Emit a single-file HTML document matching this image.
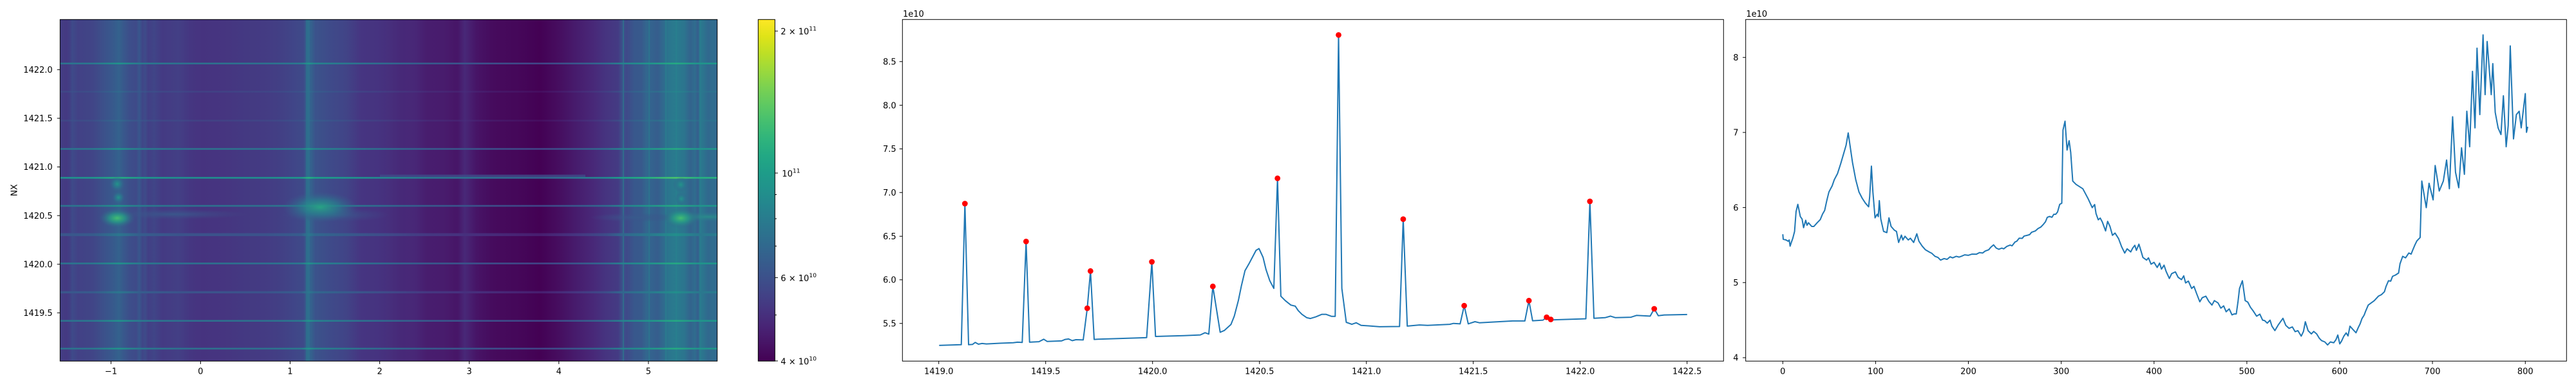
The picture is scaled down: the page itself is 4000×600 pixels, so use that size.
<!DOCTYPE html>
<html><head><meta charset="utf-8"><style>
html,body{margin:0;padding:0;background:#fff;}
svg{display:block;}
text{font-family:"DejaVu Sans","Liberation Sans",sans-serif;font-size:13px;fill:#000;}
</style></head><body>
<svg width="4000" height="600" viewBox="0 0 4000 600" xmlns="http://www.w3.org/2000/svg">
<defs>
<clipPath id="hmclip"><rect x="93.3" y="30.3" width="1020.4" height="531"/></clipPath>
<linearGradient id="hm" x1="0" y1="0" x2="1" y2="0">
<stop offset="0" stop-color="rgb(67,62,132)"/><stop offset=".00995" stop-color="rgb(68,57,130)"/><stop offset=".0149" stop-color="rgb(66,63,133)"/><stop offset=".0187" stop-color="rgb(62,74,137)"/><stop offset=".0274" stop-color="rgb(66,65,134)"/><stop offset=".0373" stop-color="rgb(65,67,134)"/><stop offset=".0498" stop-color="rgb(65,69,135)"/><stop offset=".0597" stop-color="rgb(62,76,137)"/><stop offset=".0697" stop-color="rgb(59,83,139)"/><stop offset=".0784" stop-color="rgb(56,88,140)"/><stop offset=".0858" stop-color="rgb(53,94,141)"/><stop offset=".0896" stop-color="rgb(52,98,141)"/><stop offset=".0958" stop-color="rgb(56,89,140)"/><stop offset=".1045" stop-color="rgb(60,79,138)"/><stop offset=".1157" stop-color="rgb(63,74,137)"/><stop offset=".1206" stop-color="rgb(56,87,140)"/><stop offset=".1256" stop-color="rgb(64,69,135)"/><stop offset=".1294" stop-color="rgb(62,76,137)"/><stop offset=".1343" stop-color="rgb(66,63,133)"/><stop offset=".1430" stop-color="rgb(64,69,135)"/><stop offset=".1555" stop-color="rgb(68,58,131)"/><stop offset=".1803" stop-color="rgb(67,63,133)"/><stop offset=".1978" stop-color="rgb(69,54,129)"/><stop offset=".2164" stop-color="rgb(70,51,127)"/><stop offset=".2488" stop-color="rgb(70,53,128)"/><stop offset=".2823" stop-color="rgb(68,57,130)"/><stop offset=".3109" stop-color="rgb(68,59,131)"/><stop offset=".3383" stop-color="rgb(66,64,133)"/><stop offset=".3570" stop-color="rgb(64,70,136)"/><stop offset=".3706" stop-color="rgb(62,74,137)"/><stop offset=".3756" stop-color="rgb(51,99,141)"/><stop offset=".3781" stop-color="rgb(50,101,142)"/><stop offset=".3831" stop-color="rgb(53,96,141)"/><stop offset=".3881" stop-color="rgb(59,83,139)"/><stop offset=".4142" stop-color="rgb(63,73,137)"/><stop offset=".4353" stop-color="rgb(65,68,135)"/><stop offset=".4577" stop-color="rgb(70,53,129)"/><stop offset=".4826" stop-color="rgb(70,51,128)"/><stop offset=".5012" stop-color="rgb(71,47,124)"/><stop offset=".5174" stop-color="rgb(71,41,120)"/><stop offset=".5398" stop-color="rgb(72,39,119)"/><stop offset=".5585" stop-color="rgb(72,29,110)"/><stop offset=".5833" stop-color="rgb(72,28,109)"/><stop offset=".6045" stop-color="rgb(71,21,103)"/><stop offset=".6157" stop-color="rgb(72,40,120)"/><stop offset=".6343" stop-color="rgb(71,20,102)"/><stop offset=".6592" stop-color="rgb(70,11,93)"/><stop offset=".6940" stop-color="rgb(69,8,90)"/><stop offset=".7301" stop-color="rgb(68,1,84)"/><stop offset=".7600" stop-color="rgb(70,14,96)"/><stop offset=".7836" stop-color="rgb(71,27,108)"/><stop offset=".8109" stop-color="rgb(72,40,120)"/><stop offset=".8308" stop-color="rgb(70,52,128)"/><stop offset=".8495" stop-color="rgb(68,59,131)"/><stop offset=".8557" stop-color="rgb(59,83,139)"/><stop offset=".8619" stop-color="rgb(63,73,137)"/><stop offset=".8744" stop-color="rgb(56,88,140)"/><stop offset=".8843" stop-color="rgb(56,89,140)"/><stop offset=".8930" stop-color="rgb(50,103,142)"/><stop offset=".9092" stop-color="rgb(54,93,141)"/><stop offset=".9167" stop-color="rgb(49,104,142)"/><stop offset=".9241" stop-color="rgb(44,115,142)"/><stop offset=".9303" stop-color="rgb(42,120,142)"/><stop offset=".9378" stop-color="rgb(41,123,142)"/><stop offset=".9502" stop-color="rgb(44,116,142)"/><stop offset=".9590" stop-color="rgb(51,99,141)"/><stop offset=".9664" stop-color="rgb(47,109,142)"/><stop offset=".9701" stop-color="rgb(54,94,141)"/><stop offset=".9751" stop-color="rgb(42,121,142)"/><stop offset=".9863" stop-color="rgb(49,104,142)"/><stop offset=".9950" stop-color="rgb(47,109,142)"/><stop offset="1" stop-color="rgb(51,99,141)"/>
</linearGradient>
<linearGradient id="ls" x1="0" y1="0" x2="1" y2="0">
<stop offset="0" stop-color="rgb(35,140,141)"/><stop offset=".0498" stop-color="rgb(33,145,140)"/><stop offset=".0896" stop-color="rgb(37,170,130)"/><stop offset=".1244" stop-color="rgb(32,147,139)"/><stop offset=".1866" stop-color="rgb(35,137,141)"/><stop offset=".311" stop-color="rgb(35,137,141)"/><stop offset=".3669" stop-color="rgb(32,147,139)"/><stop offset=".3781" stop-color="rgb(39,173,129)"/><stop offset=".3881" stop-color="rgb(30,156,137)"/><stop offset=".4353" stop-color="rgb(33,145,140)"/><stop offset=".4975" stop-color="rgb(38,130,142)"/><stop offset=".5597" stop-color="rgb(44,115,142)"/><stop offset=".6343" stop-color="rgb(47,108,142)"/><stop offset=".7301" stop-color="rgb(53,95,141)"/><stop offset=".7836" stop-color="rgb(45,113,142)"/><stop offset=".8308" stop-color="rgb(37,132,142)"/><stop offset=".8557" stop-color="rgb(30,156,137)"/><stop offset=".8955" stop-color="rgb(39,173,129)"/><stop offset=".9378" stop-color="rgb(73,193,109)"/><stop offset=".9701" stop-color="rgb(39,173,129)"/><stop offset="1" stop-color="rgb(42,175,127)"/>
</linearGradient>
<linearGradient id="lm" x1="0" y1="0" x2="1" y2="0">
<stop offset="0" stop-color="rgb(44,115,142)"/><stop offset=".0498" stop-color="rgb(42,120,142)"/><stop offset=".0896" stop-color="rgb(32,147,139)"/><stop offset=".1244" stop-color="rgb(41,122,142)"/><stop offset=".1866" stop-color="rgb(45,113,142)"/><stop offset=".311" stop-color="rgb(45,113,142)"/><stop offset=".3669" stop-color="rgb(41,122,142)"/><stop offset=".3781" stop-color="rgb(32,149,139)"/><stop offset=".3881" stop-color="rgb(37,132,142)"/><stop offset=".4353" stop-color="rgb(42,120,142)"/><stop offset=".4975" stop-color="rgb(48,105,142)"/><stop offset=".5597" stop-color="rgb(55,90,140)"/><stop offset=".6343" stop-color="rgb(59,82,139)"/><stop offset=".7301" stop-color="rgb(65,68,135)"/><stop offset=".7836" stop-color="rgb(57,87,140)"/><stop offset=".8308" stop-color="rgb(47,108,142)"/><stop offset=".8557" stop-color="rgb(37,132,142)"/><stop offset=".8955" stop-color="rgb(32,149,139)"/><stop offset=".9378" stop-color="rgb(37,170,130)"/><stop offset=".9701" stop-color="rgb(32,149,139)"/><stop offset="1" stop-color="rgb(31,152,138)"/>
</linearGradient>
<linearGradient id="lf" x1="0" y1="0" x2="1" y2="0">
<stop offset="0" stop-color="rgb(58,85,139)"/><stop offset=".0498" stop-color="rgb(55,90,140)"/><stop offset=".0896" stop-color="rgb(43,118,142)"/><stop offset=".1244" stop-color="rgb(54,92,141)"/><stop offset=".1866" stop-color="rgb(59,82,139)"/><stop offset=".311" stop-color="rgb(59,82,139)"/><stop offset=".3669" stop-color="rgb(54,92,141)"/><stop offset=".3781" stop-color="rgb(42,120,142)"/><stop offset=".3881" stop-color="rgb(49,103,142)"/><stop offset=".4353" stop-color="rgb(55,90,140)"/><stop offset=".4975" stop-color="rgb(63,74,137)"/><stop offset=".5597" stop-color="rgb(69,55,129)"/><stop offset=".6343" stop-color="rgb(71,46,124)"/><stop offset=".7301" stop-color="rgb(72,29,111)"/><stop offset=".7836" stop-color="rgb(70,52,128)"/><stop offset=".8308" stop-color="rgb(61,76,137)"/><stop offset=".8557" stop-color="rgb(49,103,142)"/><stop offset=".8955" stop-color="rgb(42,120,142)"/><stop offset=".9378" stop-color="rgb(34,142,140)"/><stop offset=".9701" stop-color="rgb(42,120,142)"/><stop offset="1" stop-color="rgb(41,122,142)"/>
</linearGradient>
<linearGradient id="cb" x1="0" y1="1" x2="0" y2="0">
<stop offset="0" stop-color="#440154"/><stop offset=".05" stop-color="#471365"/><stop offset=".1" stop-color="#482475"/><stop offset=".15" stop-color="#463480"/><stop offset=".2" stop-color="#414487"/><stop offset=".25" stop-color="#3b528b"/><stop offset=".3" stop-color="#355f8d"/><stop offset=".35" stop-color="#2f6c8e"/><stop offset=".4" stop-color="#2a788e"/><stop offset=".45" stop-color="#25848e"/><stop offset=".5" stop-color="#21918c"/><stop offset=".55" stop-color="#1e9c89"/><stop offset=".6" stop-color="#22a884"/><stop offset=".65" stop-color="#2fb47c"/><stop offset=".7" stop-color="#44bf70"/><stop offset=".75" stop-color="#5ec962"/><stop offset=".8" stop-color="#7ad151"/><stop offset=".85" stop-color="#9bd93c"/><stop offset=".9" stop-color="#bddf26"/><stop offset=".95" stop-color="#dfe318"/><stop offset="1" stop-color="#fde725"/>
</linearGradient>
<radialGradient id="rgG"><stop offset="0" stop-color="rgb(66,190,114)"/><stop offset=".45" stop-color="rgb(38,152,135)" stop-opacity=".8"/><stop offset="1" stop-color="rgb(50,100,140)" stop-opacity="0"/></radialGradient>
<radialGradient id="rgB"><stop offset="0" stop-color="rgb(40,162,132)"/><stop offset=".5" stop-color="rgb(40,128,142)" stop-opacity=".7"/><stop offset="1" stop-color="rgb(55,95,141)" stop-opacity="0"/></radialGradient>
<radialGradient id="rgT"><stop offset="0" stop-color="rgb(34,148,138)"/><stop offset=".5" stop-color="rgb(42,120,142)" stop-opacity=".7"/><stop offset="1" stop-color="rgb(55,95,141)" stop-opacity="0"/></radialGradient>
<radialGradient id="rgL"><stop offset="0" stop-color="rgb(56,92,141)" stop-opacity=".8"/><stop offset="1" stop-color="rgb(60,80,138)" stop-opacity="0"/></radialGradient>
<radialGradient id="rgLT"><stop offset="0" stop-color="rgb(40,145,138)" stop-opacity=".85"/><stop offset="1" stop-color="rgb(45,115,142)" stop-opacity="0"/></radialGradient>
</defs>

<!-- Heatmap -->
<g clip-path="url(#hmclip)">
<rect x="93.3" y="30.3" width="1020.4" height="531" fill="url(#hm)"/>
<rect x="475" y="30.3" width="6" height="531" fill="rgb(46,114,142)" opacity=".75"/>
<rect x="967" y="30.3" width="2" height="531" fill="rgb(42,125,142)" opacity=".6"/>
<rect x="1007" y="30.3" width="2" height="531" fill="rgb(42,125,142)" opacity=".6"/>
<rect x="1033" y="30.3" width="2" height="531" fill="rgb(40,130,142)" opacity=".6"/>
<rect x="1049" y="30.3" width="2" height="531" fill="rgb(40,130,142)" opacity=".6"/>
<rect x="1086" y="30.3" width="2" height="531" fill="rgb(40,130,142)" opacity=".6"/>
<rect x="93.3" y="97.4" width="1020.4" height="2.6" fill="url(#lm)"/>
<rect x="93.3" y="141.2" width="1020.4" height="2.6" fill="url(#lf)" opacity=".45"/>
<rect x="93.3" y="186.2" width="1020.4" height="2.6" fill="url(#lf)" opacity=".45"/>
<rect x="93.3" y="230.2" width="1020.4" height="2.6" fill="url(#lm)"/>
<rect x="590" y="271.5" width="319" height="4" fill="rgb(62,76,137)" opacity=".8"/>
<rect x="93.3" y="275" width="1020.4" height="2.8" fill="url(#ls)"/>
<rect x="93.3" y="318.7" width="1020.4" height="2.6" fill="url(#lm)"/>
<rect x="93.3" y="362.5" width="1020.4" height="4.5" fill="url(#lf)"/>
<rect x="93.3" y="408.2" width="1020.4" height="2.6" fill="url(#lm)"/>
<rect x="93.3" y="452.5" width="1020.4" height="3.5" fill="url(#lf)"/>
<rect x="93.3" y="497.4" width="1020.4" height="2.6" fill="url(#lm)"/>
<rect x="93.3" y="540.6" width="1020.4" height="2.6" fill="url(#lm)"/>
<ellipse cx="270" cy="333" rx="115" ry="8" fill="url(#rgL)"/>
<ellipse cx="520" cy="334" rx="85" ry="11" fill="url(#rgL)"/>
<ellipse cx="990" cy="338" rx="75" ry="7" fill="url(#rgL)"/>
<ellipse cx="1100" cy="337" rx="60" ry="8" fill="url(#rgLT)"/>
<ellipse cx="182" cy="339" rx="28" ry="15" fill="url(#rgG)"/>
<ellipse cx="182" cy="286" rx="12" ry="12" fill="url(#rgT)"/>
<ellipse cx="184" cy="307" rx="10" ry="10" fill="url(#rgT)"/>
<ellipse cx="497" cy="322" rx="58" ry="24" fill="url(#rgB)"/>
<ellipse cx="1057" cy="339" rx="28" ry="16" fill="url(#rgG)"/>
<ellipse cx="1057" cy="287" rx="12" ry="12" fill="url(#rgT)"/>
<ellipse cx="1058" cy="309" rx="10" ry="10" fill="url(#rgT)"/>
</g>
<rect x="93.3" y="30.3" width="1020.4" height="531" fill="none" stroke="#000" stroke-width="1"/>
<path d="M88.7 108.3H93.3M88.7 183.9H93.3M88.7 259.5H93.3M88.7 335.1H93.3M88.7 410.7H93.3M88.7 486.3H93.3M172.3 561.3V565.9M311.4 561.3V565.9M450.5 561.3V565.9M589.6 561.3V565.9M728.7 561.3V565.9M867.8 561.3V565.9M1006.9 561.3V565.9" stroke="#000" stroke-width="1" fill="none"/>
<g text-anchor="end">
<text x="81.7" y="113">1422.0</text><text x="81.7" y="188.6">1421.5</text><text x="81.7" y="264.2">1421.0</text><text x="81.7" y="339.8">1420.5</text><text x="81.7" y="415.4">1420.0</text><text x="81.7" y="491">1419.5</text>
</g>
<g text-anchor="middle">
<text x="172.3" y="581.7">−1</text><text x="311.4" y="581.7">0</text><text x="450.5" y="581.7">1</text><text x="589.6" y="581.7">2</text><text x="728.7" y="581.7">3</text><text x="867.8" y="581.7">4</text><text x="1006.9" y="581.7">5</text>
</g>
<text transform="translate(26.5,295.7) rotate(-90)" text-anchor="middle">NX</text>

<!-- Colorbar -->
<rect x="1177.3" y="30.3" width="26" height="531" fill="url(#cb)" stroke="#000" stroke-width="1"/>
<path d="M1203.3 48.3H1207.9M1203.3 269H1207.9M1203.3 431.6H1207.9M1203.3 561H1207.9M1203.3 302.5H1206.1M1203.3 340H1206.1M1203.3 382.5H1206.1M1203.3 489.6H1206.1" stroke="#000" stroke-width="1"/>
<text x="1212.3" y="53.6">2 × 10<tspan font-size="9.2" dy="-6">11</tspan></text>
<text x="1214.3" y="274.3">10<tspan font-size="9.2" dy="-6">11</tspan></text>
<text x="1212.3" y="436.9">6 × 10<tspan font-size="9.2" dy="-6">10</tspan></text>
<text x="1212.3" y="566.4">4 × 10<tspan font-size="9.2" dy="-6">10</tspan></text>

<!-- Middle chart -->
<rect x="1401.3" y="30.3" width="1275" height="531" fill="none" stroke="#000" stroke-width="1"/>
<path d="M1396.7 95.7H1401.3M1396.7 163.6H1401.3M1396.7 231.4H1401.3M1396.7 299.2H1401.3M1396.7 367.2H1401.3M1396.7 434.9H1401.3M1396.7 502.7H1401.3M1457.7 561.3V565.9M1623.7 561.3V565.9M1789.7 561.3V565.9M1955.7 561.3V565.9M2121.7 561.3V565.9M2287.7 561.3V565.9M2453.7 561.3V565.9M2619.7 561.3V565.9" stroke="#000" stroke-width="1" fill="none"/>
<g text-anchor="end">
<text x="1391.7" y="100.4">8.5</text><text x="1391.7" y="168.3">8.0</text><text x="1391.7" y="236.1">7.5</text><text x="1391.7" y="303.9">7.0</text><text x="1391.7" y="371.9">6.5</text><text x="1391.7" y="439.6">6.0</text><text x="1391.7" y="507.4">5.5</text>
</g>
<g text-anchor="middle">
<text x="1457.7" y="581.7">1419.0</text><text x="1623.7" y="581.7">1419.5</text><text x="1789.7" y="581.7">1420.0</text><text x="1955.7" y="581.7">1420.5</text><text x="2121.7" y="581.7">1421.0</text><text x="2287.7" y="581.7">1421.5</text><text x="2453.7" y="581.7">1422.0</text><text x="2619.7" y="581.7">1422.5</text>
</g>
<text x="1402" y="26">1e10</text>
<polyline fill="none" stroke="#1f77b4" stroke-width="2" stroke-linejoin="round" points="1458.3,536.9 1492.7,535.8 1498.3,316.5 1504,535.8 1510,535.4 1514.3,532.3 1519.3,535 1525,533.9 1531.7,534.6 1553.3,533.5 1573.3,532.7 1580,531.9 1587.3,532.3 1593.3,375.4 1598.7,531.9 1613.3,531.1 1620.7,527.3 1626,530.7 1648.3,529.9 1654,527.6 1659.3,526.9 1665,529.5 1670.7,528 1682,528.4 1688.3,479.1 1693.3,421.3 1699,527.6 1705,527.3 1780.5,524.8 1788.6,407 1794.3,523 1815,522.4 1837.9,521.7 1863.8,520.6 1871.2,517.2 1877,519.3 1883.3,445.2 1894.7,516.5 1901.1,513.7 1911.4,504.4 1916.6,491.4 1922.9,467.3 1927.5,444.9 1933.2,420.8 1940.1,408.7 1950.4,389.1 1955,386.4 1961.3,400.1 1965.9,419.1 1971.7,436.3 1978,448.3 1983.7,277.2 1988.9,460.4 1995.8,467.3 2004.4,474.2 2011.3,475.9 2015.9,482.8 2021.6,488.6 2029.1,493.8 2034.8,495.1 2043.4,492.4 2052.6,488.6 2058.9,488.6 2067.5,491.7 2073.3,491.7 2078.5,54.4 2083.6,448.3 2090.5,501 2099.1,504.1 2106,501.7 2113.5,505.8 2125,506.5 2142.2,507.9 2173.2,507.5 2178.9,340.6 2185.2,506.9 2204.2,505.1 2216.8,505.8 2251.2,504.1 2257,502.7 2267.3,503.4 2273.6,475.2 2279.9,503.4 2290.3,500 2297.2,501.7 2348.8,498.9 2367.8,498.9 2374.1,467.3 2379.8,498.6 2395.9,497.6 2401.6,493.1 2408,496.5 2412,497.2 2462.5,495.5 2468.8,313 2475.1,494.8 2492.3,493.8 2500.9,491.4 2508.4,493.8 2532.5,493.1 2541.1,490.3 2562.4,491.4 2568.7,480 2575,490.7 2584.2,489.6 2619.8,488.9"/>
<g fill="#ff0000">
<circle cx="1498.3" cy="316.5" r="4.4"/><circle cx="1593.3" cy="375.4" r="4.4"/><circle cx="1688.3" cy="479.1" r="4.4"/><circle cx="1693.3" cy="421.3" r="4.4"/><circle cx="1788.6" cy="407" r="4.4"/><circle cx="1883.3" cy="445.2" r="4.4"/><circle cx="1983.7" cy="277.2" r="4.4"/><circle cx="2078.5" cy="54.4" r="4.4"/><circle cx="2178.9" cy="340.6" r="4.4"/><circle cx="2273.6" cy="475.2" r="4.4"/><circle cx="2374.1" cy="467.3" r="4.4"/><circle cx="2401.6" cy="493.1" r="4.4"/><circle cx="2408" cy="496.5" r="4.4"/><circle cx="2468.8" cy="313" r="4.4"/><circle cx="2568.7" cy="480" r="4.4"/>
</g>

<!-- Right chart -->
<rect x="2710.7" y="30.3" width="1274.6" height="531" fill="none" stroke="#000" stroke-width="1"/>
<path d="M2706.1 556H2710.7M2706.1 439.3H2710.7M2706.1 322.6H2710.7M2706.1 205.9H2710.7M2706.1 89.2H2710.7M2768.3 561.3V565.9M2912.4 561.3V565.9M3056.5 561.3V565.9M3200.7 561.3V565.9M3344.8 561.3V565.9M3488.9 561.3V565.9M3633 561.3V565.9M3777.1 561.3V565.9M3921.3 561.3V565.9" stroke="#000" stroke-width="1" fill="none"/>
<g text-anchor="end">
<text x="2699.5" y="560.7">4</text><text x="2699.5" y="444">5</text><text x="2699.5" y="327.3">6</text><text x="2699.5" y="210.6">7</text><text x="2699.5" y="93.9">8</text>
</g>
<g text-anchor="middle">
<text x="2768.3" y="581.7">0</text><text x="2912.4" y="581.7">100</text><text x="3056.5" y="581.7">200</text><text x="3200.7" y="581.7">300</text><text x="3344.8" y="581.7">400</text><text x="3488.9" y="581.7">500</text><text x="3633" y="581.7">600</text><text x="3777.1" y="581.7">700</text><text x="3921.3" y="581.7">800</text>
</g>
<text x="2711.4" y="26">1e10</text>
<g transform="translate(2768.3,1022.8) scale(1.4412,-116.7)">
<polyline fill="none" stroke="#1f77b4" stroke-width="2" stroke-linejoin="round" vector-effect="non-scaling-stroke" points="0,5.644 0.5,5.578 3.5,5.568 5.8,5.551 6.9,5.568 7.9,5.486 9.2,5.535 10.8,5.591 12.7,5.682 14.3,5.945 16.2,6.043 17.3,5.978 18.9,5.879 20.8,5.847 22.4,5.732 24.7,5.83 26.1,5.764 27.7,5.797 31.2,5.748 33.5,5.748 37,5.797 40.4,5.84 42.8,5.912 45.1,5.961 47.4,6.092 49.7,6.207 53.2,6.289 55.5,6.371 59,6.453 62.4,6.584 65.9,6.732 68.2,6.83 70.5,6.994 72.8,6.797 75.1,6.601 78.6,6.371 82.1,6.207 85.5,6.125 89,6.059 92.5,6.01 93.6,6.141 95.5,6.551 97.1,6.207 99.4,5.863 101.7,5.912 102.9,5.879 104,6.092 105.6,5.847 108.6,5.682 112.1,5.666 114.4,5.863 116.7,5.748 120.2,5.699 122.5,5.682 124.8,5.535 127.8,5.633 129.4,5.568 131.7,5.617 135.2,5.568 137.5,5.591 141,5.535 144.4,5.65 146.7,5.551 150.2,5.486 153.7,5.437 158.3,5.404 160.6,5.39 164,5.35 167.2,5.335 170,5.30 173.8,5.32 177,5.31 180.3,5.344 183,5.33 186.9,5.35 190,5.34 193.4,5.356 196,5.37 200,5.364 204,5.38 208.7,5.379 212,5.40 215.3,5.394 218,5.42 221.9,5.438 224,5.47 227.1,5.503 230,5.46 232.8,5.444 236,5.46 238,5.45 241.5,5.483 245,5.50 247,5.49 250.3,5.542 252,5.55 254.7,5.592 258,5.59 260,5.62 263.4,5.63 266,5.64 268,5.67 272.2,5.689 275,5.72 278,5.74 280.9,5.778 283,5.81 285,5.87 287.5,5.881 290,5.87 292,5.91 294,5.91 296,5.94 298.4,6.043 300.6,6.058 301.9,7.032 304.1,7.15 306.3,6.766 308.5,6.89 310.2,6.737 312.4,6.353 315.9,6.309 323.3,6.25 329,6.117 333.4,5.999 336,6.04 337.5,5.92 339.9,5.837 342,5.86 344.3,5.807 347.8,5.689 350,5.816 352.5,5.75 355.2,5.63 358,5.66 361.8,5.586 365,5.48 368.4,5.394 371,5.45 374.9,5.409 377,5.46 379.3,5.497 381,5.43 383.7,5.512 386,5.42 388,5.335 392,5.30 394,5.33 396.8,5.246 400,5.27 403.4,5.202 406,5.26 408,5.18 410.8,5.232 413,5.15 416.5,5.055 419,5.12 423,5.143 426,5.07 429.6,5.04 432,5.09 434,4.996 437,5.02 440.5,4.922 443,4.95 446,4.85 449.3,4.745 452,4.80 455.8,4.819 459,4.75 462.4,4.701 465,4.76 468.9,4.73 472,4.66 475,4.69 477.7,4.612 481,4.65 484,4.57 486.4,4.583 488.6,4.583 490.5,4.75 492.1,4.922 495.2,5.025 498.2,4.76 501,4.74 503.9,4.671 507,4.62 510.5,4.553 514,4.58 517,4.50 519.2,4.494 522,4.46 525,4.50 527,4.42 530.2,4.361 534,4.44 538.9,4.524 542,4.43 545.5,4.391 549,4.41 552,4.347 555,4.36 558.6,4.287 561,4.35 563,4.479 566,4.36 569.5,4.317 572,4.35 575.2,4.317 578,4.26 580.5,4.228 584,4.21 587,4.17 590,4.21 593.6,4.199 596,4.24 598,4.302 600.1,4.184 602,4.22 604.5,4.287 607,4.33 609,4.29 611.1,4.42 614,4.38 617.6,4.332 620,4.40 622,4.45 624,4.52 626.4,4.568 628,4.62 630.8,4.701 634,4.73 637.3,4.76 641.7,4.819 645,4.84 648.2,4.878 650,4.95 652.6,5.025 655,5.02 657,5.084 660,5.10 663.5,5.128 665,5.25 667.9,5.35 671,5.33 674.5,5.394 677,5.38 678.9,5.438 681,5.50 683.2,5.556 686.7,5.601 688.5,6.353 693.3,5.999 696.3,6.323 700.7,6.102 702.9,6.56 707.3,6.22 711.7,6.353 715.2,6.633 718.2,6.25 721.7,7.209 724.8,6.471 728.3,6.264 731.3,6.796 734.4,6.442 737,7.283 740.1,6.81 743.1,7.814 745.8,7.061 748,8.123 751,7.238 754.5,8.3 756.7,7.504 758.9,8.212 763.3,7.504 765,7.917 767.6,7.268 770.7,7.061 773.8,6.973 776.4,7.489 779.4,6.81 781.6,7.091 783.8,8.153 787.3,6.914 790.4,7.238 793.4,7.283 795.6,7.061 798.3,7.342 800,7.518 801.3,7.002 802.6,7.076"/>
</g>
</svg>
</body></html>
